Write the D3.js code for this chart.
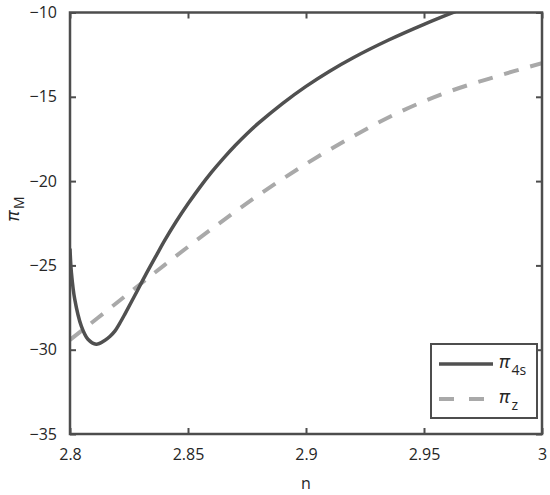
<!DOCTYPE html>
<html>
  <head>
    <meta charset="UTF-8" />
    <title>pi_M vs n</title>
    <script src="https://d3js.org/d3.v7.min.js"></script>
    <style>
      body { margin: 0; background: #fff; }
      text { font-family: "Open Sans", sans-serif; fill: #262626; }
      .greek { font-family: "Noto Sans", sans-serif; font-style: italic; }
      .frame { fill: none; stroke: #4d4d4d; stroke-width: 2.5px; }
      .tick line { stroke: #4d4d4d; stroke-width: 2px; }
    </style>
  </head>
  <body>
    <svg id="chart" width="550" height="495"></svg>

    <script>
      // values
      var nPi4s = [2.8, 2.8006, 2.802, 2.8048, 2.8076, 2.8111, 2.8147, 2.817, 2.819, 2.821, 2.8232,
        2.8274, 2.8317, 2.8366, 2.84, 2.845, 2.85, 2.855, 2.86, 2.865, 2.87, 2.875, 2.88, 2.89,
        2.9, 2.91, 2.92, 2.935, 2.95, 2.965, 2.975];
      var pi4s = [-24.0, -25.43, -27.0, -28.6, -29.38, -29.67, -29.45, -29.2, -28.9, -28.45, -27.9,
        -26.8, -25.65, -24.4, -23.55, -22.4, -21.35, -20.37, -19.47, -18.65, -17.89, -17.19,
        -16.55, -15.4, -14.38, -13.48, -12.68, -11.63, -10.7, -9.85, -9.32];

      var nPiZ = [2.8, 2.82, 2.84, 2.86, 2.88, 2.9, 2.92, 2.94, 2.96, 2.98, 3.0];
      var piZ = [-29.42, -27.2, -24.98, -22.84, -20.82, -18.98, -17.34, -15.88, -14.72, -13.82, -13.0];

      var xTicks = [2.8, 2.85, 2.9, 2.95, 3];
      var yTicks = [-35, -30, -25, -20, -15, -10];

      var svg = d3.select('#chart');
      var mLeft = 70, mRight = 542, mTop = 12.5, mBottom = 434;
      var w = mRight - mLeft, h = mBottom - mTop;

      var x = d3.scaleLinear().domain([2.8, 3]).range([mLeft, mRight]);
      var y = d3.scaleLinear().domain([-35, -10]).range([mBottom, mTop]);

      // inward ticks on all four sides, like matlab's box on
      var xb = svg.append('g').attr('transform', 'translate(0,' + mBottom + ')')
        .call(d3.axisBottom(x).tickValues(xTicks).tickSize(-6).tickPadding(15)
          .tickFormat(function (d) { return d3.format('')(d); }));
      var xt = svg.append('g').attr('transform', 'translate(0,' + mTop + ')')
        .call(d3.axisTop(x).tickValues(xTicks).tickSize(-6).tickFormat(''));
      var yl = svg.append('g').attr('transform', 'translate(' + mLeft + ',0)')
        .call(d3.axisLeft(y).tickValues(yTicks).tickSize(-6).tickPadding(13)
          .tickFormat(function (d) { return d3.format('')(d).replace('-', '\u2212'); }));
      var yr = svg.append('g').attr('transform', 'translate(' + mRight + ',0)')
        .call(d3.axisRight(y).tickValues(yTicks).tickSize(-6).tickFormat(''));

      [xb, xt, yl, yr].forEach(function (g) { g.select('.domain').remove(); });
      svg.selectAll('.tick text').attr('font-size', 16).style('fill', '#262626');

      svg.append('clipPath').attr('id', 'clip')
        .append('rect').attr('x', mLeft).attr('y', mTop).attr('width', w).attr('height', h);

      var line = d3.line()
        .x(function (d) { return x(d[0]); })
        .y(function (d) { return y(d[1]); })
        .curve(d3.curveCatmullRom.alpha(0.5));

      var plot = svg.append('g').attr('clip-path', 'url(#clip)');

      plot.append('path')
        .datum(d3.zip(nPiZ, piZ))
        .attr('d', line)
        .attr('fill', 'none')
        .attr('stroke', '#a9a9a9')
        .attr('stroke-width', 4)
        .attr('stroke-dasharray', '15,12');

      plot.append('path')
        .datum(d3.zip(nPi4s, pi4s))
        .attr('d', line)
        .attr('fill', 'none')
        .attr('stroke', '#505050')
        .attr('stroke-width', 3.5);

      svg.append('rect').attr('class', 'frame')
        .attr('x', mLeft).attr('y', mTop).attr('width', w).attr('height', h);

      // axis labels
      svg.append('text')
        .attr('x', x(2.9)).attr('y', 489)
        .attr('text-anchor', 'middle')
        .attr('font-size', 16)
        .text('n');

      var yLab = svg.append('text')
        .attr('transform', 'translate(19,209) rotate(-90)')
        .attr('text-anchor', 'middle')
        .attr('font-size', 18);
      yLab.append('tspan').attr('class', 'greek').text('\u03c0');
      yLab.append('tspan').attr('dy', 5).attr('dx', 2).attr('font-size', 14).text('M');

      // legend
      var lg = svg.append('g');
      lg.append('rect')
        .attr('x', 431).attr('y', 344).attr('width', 106).attr('height', 74)
        .attr('fill', '#fff').attr('stroke', '#4d4d4d').attr('stroke-width', 2);

      var entries = [
        { name: '4s', color: '#505050', dash: null, width: 3.5, y: 364 },
        { name: 'z', color: '#a9a9a9', dash: '15,15', width: 4, y: 399 }
      ];
      entries.forEach(function (e) {
        lg.append('line')
          .attr('x1', 439).attr('x2', 493).attr('y1', e.y).attr('y2', e.y)
          .attr('stroke', e.color).attr('stroke-width', e.width)
          .attr('stroke-dasharray', e.dash);
        var t = lg.append('text').attr('x', 499).attr('y', e.y + 4).attr('font-size', 18);
        t.append('tspan').attr('class', 'greek').text('\u03c0');
        t.append('tspan').attr('dy', 7).attr('dx', 2).attr('font-size', 14).text(e.name);
      });
    </script>
  </body>
</html>
